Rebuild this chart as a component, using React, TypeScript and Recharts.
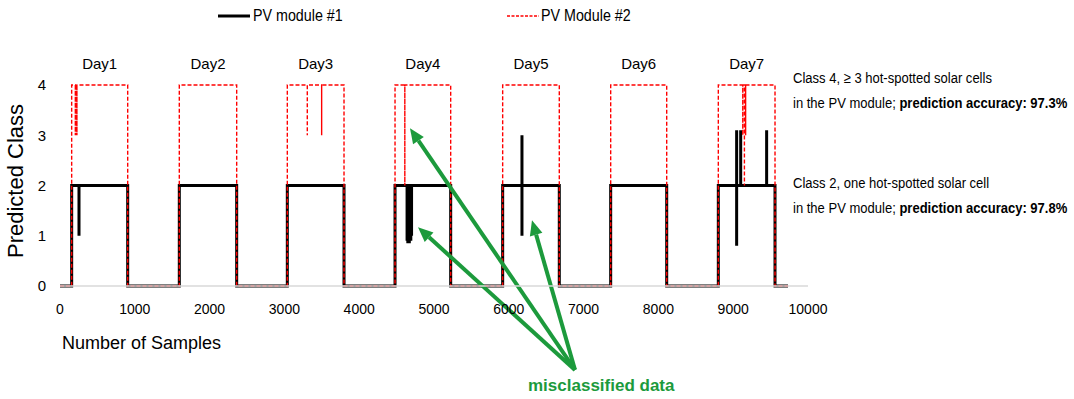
import {
  LineChart,
  Line,
  XAxis,
  YAxis,
  ReferenceDot,
  ReferenceLine,
} from "recharts";

const dayLabels = ["Day1", "Day2", "Day3", "Day4", "Day5", "Day6", "Day7"];
const dayStart = [156, 1595, 3039, 4479, 5918, 7362, 8801];
const dayEnd = [905, 2362, 3797, 5223, 6675, 8111, 9559];
const lastSample = 9733;

const pv1Level = 2;
const pv2Level = 4;

// [sample, predicted class] of the misclassified spikes
const pv1Spikes = [
  [254, 1],
  [4640, 0.9],
  [4650, 0.85],
  [4660, 0.9],
  [4670, 0.85],
  [4680, 0.9],
  [4690, 0.9],
  [4700, 1],
  [6176, 3],
  [6176, 1],
  [9046, 3.1],
  [9046, 0.8],
  [9100, 3.1],
  [9447, 3.1],
];
const pv2Spikes = [
  [205, 3],
  [215, 3],
  [226, 3],
  [3306, 3],
  [3498, 3],
  [4610, 2],
  [9128, 3],
  [9150, 2],
  [9166, 3],
];

const xTicks = [0, 1000, 2000, 3000, 4000, 5000, 6000, 7000, 8000, 9000, 10000];
const yTicks = [0, 1, 2, 3, 4];

// arrow tips [sample, class] and their common tail
const arrowTail = { x: 6885, y: -1.67 };
const arrowTips = [
  [4679, 3.14],
  [4786, 1.17],
  [6310, 1.31],
];

function buildSeries(level: number, spikes: number[][]) {
  const pts: { x: number; y: number }[] = [{ x: 0, y: 0 }];
  dayStart.forEach((s, i) => {
    const e = dayEnd[i];
    pts.push({ x: s, y: 0 }, { x: s, y: level });
    spikes
      .filter(([x]) => x > s && x < e)
      .forEach(([x, v]) => {
        pts.push({ x, y: level }, { x, y: v }, { x, y: level });
      });
    pts.push({ x: e, y: level }, { x: e, y: 0 });
  });
  pts.push({ x: lastSample, y: 0 });
  return pts;
}

const pv1 = buildSeries(pv1Level, pv1Spikes);
const pv2 = buildSeries(pv2Level, pv2Spikes);

const font = "'Liberation Sans', Arial, sans-serif";
const green = "#1c9a3c";

function Arrow(props: any) {
  const { x1, y1, x2, y2 } = props;
  const dx = x2 - x1;
  const dy = y2 - y1;
  const len = Math.sqrt(dx * dx + dy * dy);
  const ux = dx / len;
  const uy = dy / len;
  const head = 15;
  const half = 6.5;
  const bx = x2 - ux * head;
  const by = y2 - uy * head;
  return (
    <g>
      <line x1={x1} y1={y1} x2={bx} y2={by} stroke={green} strokeWidth={4} />
      <polygon
        points={`${x2},${y2} ${bx - uy * half},${by + ux * half} ${bx + uy * half},${by - ux * half}`}
        fill={green}
      />
    </g>
  );
}

const narrow = { transform: "scaleX(0.84)", transformOrigin: "left center" };

export default function App() {
  return (
    <div style={{ position: "absolute", left: 0, top: 0, width: 1074, height: 399, fontFamily: font, background: "#fff", overflow: "hidden" }}>
      <LineChart
        width={1074}
        height={399}
        margin={{ top: 85, right: 266, left: 0, bottom: 83 }}
      >
        <XAxis
          dataKey="x"
          type="number"
          domain={[0, 10000]}
          ticks={xTicks}
          tickLine={false}
          axisLine={{ stroke: "#d9d9d9", strokeWidth: 1.5 }}
          tick={{ fill: "#000", fontSize: 14, fontFamily: font }}
          tickMargin={12}
          height={30}
        />
        <YAxis
          type="number"
          domain={[0, 4]}
          ticks={yTicks}
          tickLine={false}
          axisLine={false}
          tick={{ fill: "#000", fontSize: 15, fontFamily: font }}
          tickMargin={8}
          width={60}
        />
        <Line
          data={pv1}
          dataKey="y"
          type="linear"
          stroke="#000"
          strokeWidth={3}
          dot={false}
          isAnimationActive={false}
        />
        <Line
          data={pv2}
          dataKey="y"
          type="linear"
          stroke="#ff0000"
          strokeWidth={1.4}
          strokeDasharray="4 2"
          dot={false}
          isAnimationActive={false}
        />
        {dayLabels.map((d, i) => (
          <ReferenceDot
            key={d}
            x={(dayStart[i] + dayEnd[i]) / 2}
            y={4.42}
            r={0}
            ifOverflow="visible"
            stroke="none"
            label={{ value: d, position: "center", fill: "#000", fontSize: 15, fontFamily: font }}
          />
        ))}
        {arrowTips.map(([x, y], i) => (
          <ReferenceLine
            key={i}
            segment={[arrowTail, { x, y }]}
            ifOverflow="visible"
            shape={Arrow}
          />
        ))}
      </LineChart>

      {/* legend */}
      <div style={{ position: "absolute", left: 218, top: 6, display: "flex", alignItems: "center", fontSize: 17 }}>
        <svg width={35} height={6}>
          <line x1={0} y1={3} x2={32} y2={3} stroke="#000" strokeWidth={3} />
        </svg>
        <span style={{ ...narrow, display: "inline-block" }}>PV module #1</span>
      </div>
      <div style={{ position: "absolute", left: 507, top: 6, display: "flex", alignItems: "center", fontSize: 17 }}>
        <svg width={34} height={6}>
          <line x1={0} y1={3} x2={32} y2={3} stroke="#ff0000" strokeWidth={1.4} strokeDasharray="3 1.5" />
        </svg>
        <span style={{ ...narrow, display: "inline-block" }}>PV Module #2</span>
      </div>

      {/* axis titles */}
      <div
        style={{
          position: "absolute",
          left: 16,
          top: 181,
          transform: "translate(-50%, -50%) rotate(-90deg)",
          whiteSpace: "nowrap",
          fontSize: 22,
        }}
      >
        Predicted Class
      </div>
      <div style={{ position: "absolute", left: 62, top: 333, fontSize: 18, whiteSpace: "nowrap" }}>
        Number of Samples
      </div>
      <div
        style={{
          position: "absolute",
          left: 528,
          top: 376,
          fontSize: 17,
          fontWeight: "bold",
          color: green,
          whiteSpace: "nowrap",
        }}
      >
        misclassified data
      </div>

      {/* notes */}
      <div style={{ position: "absolute", left: 793, top: 65, fontSize: 15.5, lineHeight: "25px", whiteSpace: "nowrap", ...narrow }}>
        <div>Class 4, ≥ 3 hot-spotted solar cells</div>
        <div>
          in the PV module; <b>prediction accuracy: 97.3%</b>
        </div>
      </div>
      <div style={{ position: "absolute", left: 793, top: 170, fontSize: 15.5, lineHeight: "25px", whiteSpace: "nowrap", ...narrow }}>
        <div>Class 2, one hot-spotted solar cell</div>
        <div>
          in the PV module; <b>prediction accuracy: 97.8%</b>
        </div>
      </div>
    </div>
  );
}
